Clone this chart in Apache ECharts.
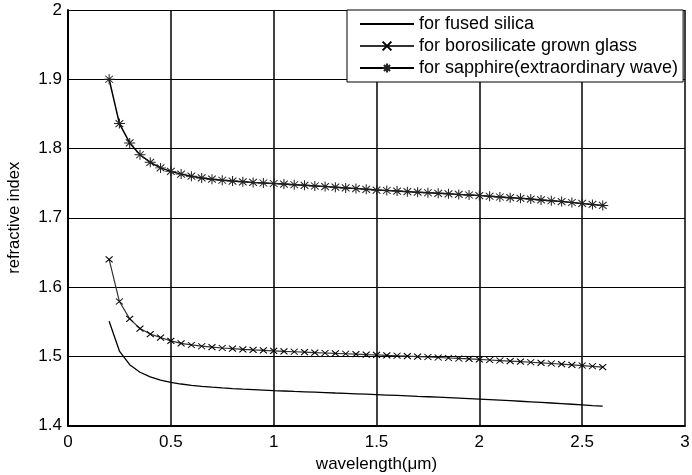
<!DOCTYPE html>
<html>
<head>
<meta charset="utf-8">
<script src="https://cdn.jsdelivr.net/npm/echarts@6/dist/echarts.min.js"></script>
<style>html,body{margin:0;padding:0;background:#fff;}#c{width:692px;height:475px;}</style>
</head>
<body>
<div id="c"></div>
<script>
const wavelength = [0.20,0.25,0.30,0.35,0.40,0.45,0.50,0.55,0.60,0.65,0.70,0.75,0.80,0.85,0.90,0.95,1.00,1.05,1.10,1.15,1.20,1.25,1.30,1.35,1.40,1.45,1.50,1.55,1.60,1.65,1.70,1.75,1.80,1.85,1.90,1.95,2.00,2.05,2.10,2.15,2.20,2.25,2.30,2.35,2.40,2.45,2.50,2.55,2.60];
const fusedSilica = [1.5505,1.5075,1.4878,1.4769,1.4701,1.4656,1.4623,1.4599,1.4580,1.4565,1.4553,1.4542,1.4533,1.4525,1.4518,1.4511,1.4504,1.4498,1.4492,1.4487,1.4481,1.4475,1.4469,1.4464,1.4458,1.4452,1.4446,1.4440,1.4434,1.4428,1.4421,1.4415,1.4409,1.4402,1.4395,1.4388,1.4381,1.4374,1.4366,1.4358,1.4350,1.4342,1.4334,1.4325,1.4316,1.4307,1.4298,1.4288,1.4279];
const borosilicate = [1.640,1.579,1.554,1.540,1.532,1.527,1.5222,1.5187,1.5163,1.5145,1.5131,1.5119,1.5109,1.5100,1.5092,1.5085,1.5078,1.5071,1.5065,1.5059,1.5053,1.5047,1.5041,1.5036,1.5030,1.5024,1.5019,1.5013,1.5007,1.5001,1.4995,1.4989,1.4982,1.4975,1.4968,1.4961,1.4954,1.4946,1.4938,1.4930,1.4922,1.4913,1.4904,1.4895,1.4886,1.4876,1.4866,1.4855,1.4844];
const sapphire = [1.900,1.836,1.808,1.791,1.780,1.772,1.767,1.763,1.760,1.7575,1.7557,1.7542,1.7530,1.7519,1.7510,1.7502,1.7495,1.7486,1.7477,1.7468,1.7459,1.7450,1.7441,1.7431,1.7421,1.7411,1.7400,1.7393,1.7385,1.7377,1.7369,1.7361,1.7353,1.7345,1.7337,1.7329,1.7320,1.7310,1.7300,1.7290,1.7280,1.7269,1.7257,1.7245,1.7233,1.7220,1.7207,1.7193,1.7178];
const seriesNames = ['for fused silica','for borosilicate grown glass','for sapphire(extraordinary wave)'];
const xTicks = [0,0.5,1,1.5,2,2.5,3];
const yTicks = [1.4,1.5,1.6,1.7,1.8,1.9,2];

function pairs(ys){ return wavelength.map((x,i)=>[x,ys[i]]); }
const FONT = 'Liberation Sans, Arial, sans-serif';
const chart = echarts.init(document.getElementById('c'), null, {renderer:'canvas'});
chart.setOption({
  animation:false,
  backgroundColor:'#fff',
  grid:{left:68,right:7,top:10,bottom:49.5,containLabel:false,outerBoundsMode:'none'},
  xAxis:{
    type:'value', min:xTicks[0], max:xTicks[xTicks.length-1], interval:0.5,
    name:'wavelength(μm)', nameLocation:'middle', nameGap:25,
    nameTextStyle:{fontFamily:FONT,fontSize:17,color:'#000'},
    axisLine:{show:true,onZero:false,lineStyle:{color:'#000',width:2}},
    axisTick:{show:false},
    axisLabel:{fontFamily:FONT,fontSize:17,color:'#000',margin:8,
      formatter:v=>String(+v.toFixed(1))},
    splitLine:{show:true,lineStyle:{color:'#000',width:1.5}}
  },
  yAxis:{
    type:'value', min:yTicks[0], max:yTicks[yTicks.length-1], interval:0.1,
    name:'refractive index', nameLocation:'middle', nameGap:45, nameRotate:90,
    nameTextStyle:{fontFamily:FONT,fontSize:16.5,color:'#000'},
    axisLine:{show:true,onZero:false,lineStyle:{color:'#000',width:2}},
    axisTick:{show:false},
    axisLabel:{fontFamily:FONT,fontSize:17,color:'#000',margin:6,
      formatter:v=>String(+v.toFixed(1))},
    splitLine:{show:true,lineStyle:{color:'#000',width:1}}
  },
  legend:{
    orient:'vertical', left:347, top:10,
    padding:[5,5,5,12], itemGap:4, itemWidth:54, itemHeight:11,
    backgroundColor:'#fff', borderColor:'#000', borderWidth:1,
    textStyle:{fontFamily:FONT,fontSize:18,color:'#000',lineHeight:18},
    data:[
      {name:seriesNames[0], itemStyle:{opacity:0}},
      {name:seriesNames[1]},
      {name:seriesNames[2]}
    ]
  },
  series:[
    {name:seriesNames[0], type:'line', data:pairs(fusedSilica), showSymbol:false, symbol:'none',
     lineStyle:{color:'#000',width:1.3}, itemStyle:{color:'#000'}, z:3},
    {name:seriesNames[1], type:'line', data:pairs(borosilicate),
     symbol:'path://M-1,-1L1,1M-1,1L1,-1', symbolSize:[7,6], showAllSymbol:true,
     lineStyle:{color:'#333',width:1.2},
     itemStyle:{color:'#000',borderColor:'#000',borderWidth:1}, z:4},
    {name:seriesNames[2], type:'line', data:pairs(sapphire),
     symbol:'path://M0,-1L0,1M-1,0L1,0M-0.7,-0.7L0.7,0.7M-0.7,0.7L0.7,-0.7', symbolSize:[11,10], showAllSymbol:true,
     lineStyle:{color:'#000',width:1.5},
     itemStyle:{color:'#000',borderColor:'#222',borderWidth:1}, z:5}
  ]
});
</script>
</body>
</html>
